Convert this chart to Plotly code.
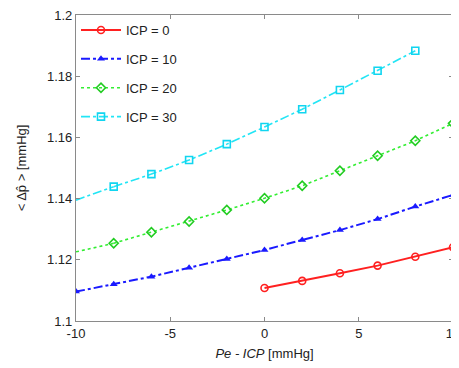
import plotly.graph_objects as go

x_vals = [-10, -8, -6, -4, -2, 0, 2, 4, 6, 8, 10]

x_icp0 = [0, 2, 4, 6, 8, 10]
y_icp0 = [1.1108, 1.1131, 1.1156, 1.1181, 1.1210, 1.1241]

x_icp10 = x_vals
y_icp10 = [1.1096, 1.1120, 1.1145, 1.1174, 1.1203, 1.1232, 1.1265, 1.1297, 1.1333, 1.1374, 1.1412]

x_icp20 = x_vals
y_icp20 = [1.1226, 1.1254, 1.1290, 1.1325, 1.1363, 1.1401, 1.1442, 1.1491, 1.1540, 1.1589, 1.1646]

x_icp30 = [-10, -8, -6, -4, -2, 0, 2, 4, 6, 8]
y_icp30 = [1.1395, 1.1439, 1.1480, 1.1526, 1.1578, 1.1634, 1.1692, 1.1755, 1.1818, 1.1883]

names = ["ICP = 0", "ICP = 10", "ICP = 20", "ICP = 30"]
x_ticks = [-10, -5, 0, 5, 10]
x_ticklabels = ["-10", "-5", "0", "5", "10"]
y_ticks = [1.1, 1.12, 1.14, 1.16, 1.18, 1.2]
y_ticklabels = ["1.1", "1.12", "1.14", "1.16", "1.18", "1.2"]

fig = go.Figure()

# leading segments without markers (green, cyan)
fig.add_trace(go.Scatter(x=x_icp20[:2], y=y_icp20[:2], mode="lines", showlegend=False,
                         line=dict(color="#33ee33", width=1.6, dash="dot"), hoverinfo="skip"))
fig.add_trace(go.Scatter(x=x_icp30[:2], y=y_icp30[:2], mode="lines", showlegend=False,
                         line=dict(color="#22e5f5", width=1.6, dash="dashdot"), hoverinfo="skip"))

fig.add_trace(go.Scatter(x=x_icp0, y=y_icp0, mode="lines+markers", name=names[0], legendgroup="a",
                         line=dict(color="#ff2020", width=2),
                         marker=dict(symbol="circle-open", size=7, color="#ff2020", line=dict(width=1.6))))
fig.add_trace(go.Scatter(x=x_icp10, y=y_icp10, mode="lines+markers", name=names[1], legendgroup="b",
                         line=dict(color="#1a1aff", width=2, dash="dashdot"),
                         marker=dict(symbol="triangle-up", size=7, color="#1a1aff")))
fig.add_trace(go.Scatter(x=x_icp20[1:], y=y_icp20[1:], mode="lines+markers", name=names[2], legendgroup="c",
                         line=dict(color="#33ee33", width=1.6, dash="dot"),
                         marker=dict(symbol="diamond-open", size=7, color="#22cc22", line=dict(width=1.6))))
fig.add_trace(go.Scatter(x=x_icp30[1:], y=y_icp30[1:], mode="lines+markers", name=names[3], legendgroup="d",
                         line=dict(color="#22e5f5", width=1.6, dash="dashdot"),
                         marker=dict(symbol="square-open", size=7, color="#11d5f0", line=dict(width=1.6))))

axis_common = dict(showline=True, linecolor="#8a8a8a", linewidth=1.2, mirror="ticks",
                   ticks="inside", ticklen=4, tickcolor="#8a8a8a", showgrid=False, zeroline=False,
                   ticklabeloverflow="allow", automargin=False,
                   tickfont=dict(family="Liberation Sans, Arial", size=13, color="#222"))

fig.update_layout(
    width=451, height=360,
    margin=dict(l=68, r=6, t=7, b=47, autoexpand=False),
    paper_bgcolor="white", plot_bgcolor="white",
    xaxis=dict(range=[-10, 10], tickvals=x_ticks, ticktext=x_ticklabels,
               title=dict(text="<i>Pe - ICP</i> [mmHg]", standoff=9,
                          font=dict(family="Liberation Sans, Arial", size=13, color="#222")),
               **axis_common),
    yaxis=dict(range=[1.1, 1.2], tickvals=y_ticks, ticktext=y_ticklabels,
               title=dict(text="&lt; Δp̂ &gt; [mmHg]", standoff=17,
                          font=dict(family="Liberation Sans, Arial", size=13, color="#222")),
               **axis_common),
    legend=dict(x=0.0, y=1.0, xanchor="left", yanchor="top", bgcolor="rgba(255,255,255,0)",
                tracegroupgap=9, itemwidth=40,
                font=dict(family="Liberation Sans, Arial", size=13, color="#222")),
    showlegend=True,
)

fig.write_html("out.html")
